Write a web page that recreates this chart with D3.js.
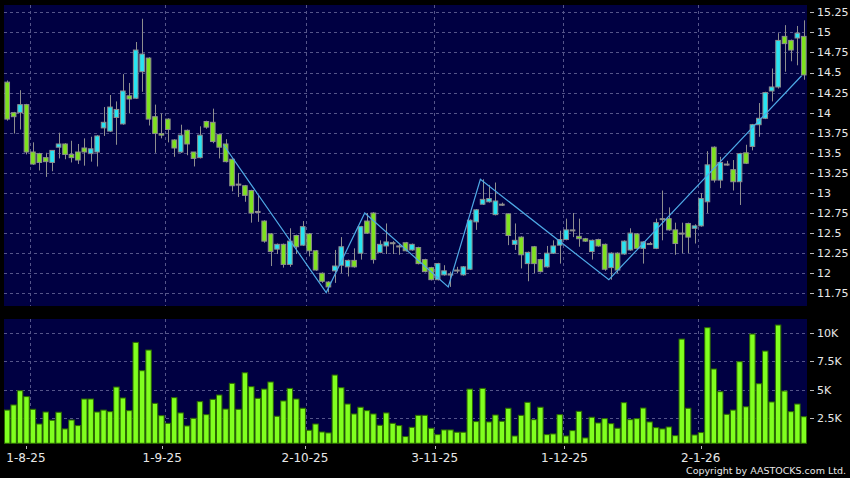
<!DOCTYPE html>
<html>
<head>
<meta charset="utf-8">
<script src="https://cdn.jsdelivr.net/npm/d3@7"></script>
<style>
  html, body { margin: 0; padding: 0; background: #000; }
  svg { display: block; }
  text { font-family: "DejaVu Sans", sans-serif; fill: #e8e8e8; }
</style>
</head>
<body>
<svg id="chart" width="850" height="478"></svg>
<script>
// daily candles, 28 Jul 2025 .. 26 Jan 2026 (one entry per trading day)
const open = [14.38, 14.00, 14.00, 14.10, 13.51, 13.49, 13.44, 13.38, 13.57, 13.61,
  13.48, 13.51, 13.56, 13.49, 13.51, 13.81, 13.77, 13.94, 13.86, 14.21,
  14.18, 14.51, 14.68, 13.95, 13.74, 13.92, 13.66, 13.51, 13.78, 13.51,
  13.44, 13.89, 13.88, 13.73, 13.61, 13.42, 13.11, 13.09, 13.03, 12.77,
  12.65, 12.49, 12.30, 12.36, 12.11, 12.47, 12.35, 12.49, 12.28, 12.00,
  11.89, 12.03, 12.10, 12.08, 12.16, 12.25, 12.65, 12.75, 12.26, 12.34,
  12.38, 12.34, 12.38, 12.29, 12.32, 12.17, 12.07, 11.92, 11.98, 11.99,
  12.04, 11.98, 12.05, 12.64, 12.86, 12.89, 12.73, 12.86, 12.74, 12.36,
  12.45, 12.12, 12.33, 12.17, 12.08, 12.25, 12.35, 12.42, 12.54, 12.46,
  12.43, 12.27, 12.42, 12.36, 12.07, 12.25, 12.24, 12.29, 12.49, 12.31,
  12.37, 12.31, 12.68, 12.68, 12.54, 12.50, 12.62, 12.56, 12.59, 12.89,
  13.57, 13.16, 13.36, 13.29, 13.14, 13.50, 13.58, 13.85, 13.93, 14.27,
  14.32, 14.95, 14.90, 14.93, 14.95];
const high = [14.40, 14.01, 14.28, 14.11, 13.63, 13.50, 13.50, 13.53, 13.75, 13.62,
  13.65, 13.61, 13.68, 13.70, 13.72, 14.07, 14.22, 14.14, 14.48, 14.37,
  14.88, 15.17, 14.69, 14.10, 13.99, 13.93, 13.67, 13.85, 13.79, 13.51,
  13.83, 13.90, 14.05, 13.74, 13.67, 13.43, 13.25, 13.10, 13.04, 12.97,
  12.66, 12.50, 12.37, 12.37, 12.56, 12.48, 12.65, 12.50, 12.29, 12.01,
  11.90, 12.29, 12.45, 12.17, 12.31, 12.59, 12.75, 12.76, 12.41, 12.62,
  12.40, 12.36, 12.39, 12.37, 12.33, 12.18, 12.08, 12.13, 12.10, 12.02,
  12.08, 12.09, 12.67, 12.80, 13.17, 13.10, 13.13, 12.88, 12.75, 12.62,
  12.46, 12.27, 12.34, 12.18, 12.34, 12.41, 12.53, 12.68, 12.75, 12.68,
  12.44, 12.42, 12.43, 12.37, 12.26, 12.26, 12.41, 12.56, 12.50, 12.40,
  12.39, 12.68, 13.03, 12.82, 12.63, 12.63, 12.63, 12.61, 13.00, 13.52,
  13.58, 13.45, 13.40, 13.41, 13.50, 13.60, 13.86, 14.12, 14.26, 14.55,
  14.99, 15.09, 14.91, 15.08, 15.15];
const low = [13.90, 13.74, 13.79, 13.48, 13.35, 13.28, 13.20, 13.27, 13.43, 13.42,
  13.38, 13.36, 13.34, 13.39, 13.33, 13.71, 13.76, 13.60, 13.85, 13.99,
  14.17, 14.26, 13.84, 13.50, 13.68, 13.63, 13.45, 13.50, 13.47, 13.33,
  13.43, 13.80, 13.62, 13.43, 13.38, 13.02, 12.95, 12.89, 12.63, 12.64,
  12.38, 12.09, 12.24, 12.07, 12.08, 12.24, 12.34, 12.21, 12.03, 11.88,
  11.76, 11.88, 12.00, 11.96, 12.07, 12.17, 12.49, 12.12, 12.25, 12.24,
  12.24, 12.23, 12.27, 12.28, 12.11, 12.01, 11.91, 11.91, 11.97, 11.83,
  12.00, 11.97, 12.04, 12.54, 12.85, 12.88, 12.72, 12.84, 12.35, 12.29,
  12.06, 11.90, 12.00, 12.01, 12.07, 12.24, 12.12, 12.41, 12.45, 12.33,
  12.39, 12.17, 12.33, 12.03, 11.92, 12.00, 12.23, 12.28, 12.30, 12.12,
  12.36, 12.30, 12.41, 12.53, 12.23, 12.25, 12.25, 12.37, 12.58, 12.75,
  13.13, 13.06, 13.34, 13.03, 12.85, 13.36, 13.53, 13.70, 13.92, 14.14,
  14.30, 14.51, 14.64, 14.59, 14.41];
const close = [13.92, 13.95, 14.10, 13.51, 13.36, 13.38, 13.39, 13.53, 13.61, 13.48,
  13.44, 13.41, 13.51, 13.55, 13.71, 13.88, 14.07, 14.04, 14.27, 14.17,
  14.78, 14.73, 13.92, 13.74, 13.72, 13.79, 13.56, 13.72, 13.61, 13.43,
  13.72, 13.82, 13.64, 13.57, 13.39, 13.09, 13.11, 12.97, 12.75, 12.77,
  12.40, 12.27, 12.36, 12.11, 12.40, 12.33, 12.58, 12.28, 12.04, 11.90,
  11.83, 12.09, 12.33, 12.16, 12.08, 12.58, 12.50, 12.17, 12.36, 12.39,
  12.38, 12.34, 12.28, 12.36, 12.12, 12.02, 11.92, 12.12, 12.03, 11.99,
  12.04, 12.08, 12.66, 12.79, 12.92, 12.93, 12.90, 12.86, 12.47, 12.41,
  12.23, 12.26, 12.12, 12.02, 12.25, 12.34, 12.42, 12.54, 12.54, 12.43,
  12.40, 12.41, 12.34, 12.05, 12.25, 12.04, 12.40, 12.50, 12.31, 12.39,
  12.37, 12.63, 12.68, 12.54, 12.37, 12.50, 12.45, 12.59, 12.93, 13.35,
  13.16, 13.38, 13.36, 13.14, 13.49, 13.37, 13.85, 13.93, 14.25, 14.32,
  14.90, 14.86, 14.78, 14.99, 14.47];
// volume in thousands of shares
const volume = [3.22, 3.67, 4.92, 4.40, 3.29, 2.00, 3.05, 2.33, 3.03, 1.57,
  2.35, 1.86, 4.19, 4.19, 3.05, 3.22, 3.08, 5.24, 4.28, 3.17,
  9.15, 6.67, 8.48, 3.81, 2.73, 2.06, 4.31, 2.97, 1.83, 2.50,
  3.96, 2.82, 4.16, 4.54, 3.31, 5.56, 3.29, 6.49, 5.27, 4.25,
  5.06, 5.68, 2.68, 4.02, 5.12, 4.19, 3.38, 1.45, 2.00, 1.30,
  1.22, 6.29, 5.18, 3.75, 2.88, 3.47, 3.17, 2.88, 1.89, 2.97,
  2.06, 1.86, 0.90, 1.71, 2.76, 2.76, 1.63, 1.07, 1.48, 1.48,
  1.28, 1.28, 5.06, 2.21, 5.12, 2.18, 2.79, 2.24, 3.38, 0.95,
  2.76, 3.90, 2.38, 3.47, 1.07, 1.13, 2.82, 0.95, 1.42, 3.11,
  0.78, 2.59, 2.09, 2.47, 2.03, 1.63, 3.87, 2.38, 2.47, 3.40,
  2.18, 1.68, 1.57, 1.74, 0.98, 9.44, 3.38, 1.04, 1.25, 10.44,
  6.82, 4.83, 2.85, 3.22, 7.46, 3.51, 9.88, 5.53, 8.39, 3.93,
  10.67, 4.89, 3.08, 3.75, 2.64];

// zigzag turning points: [candle index, price]
const zigIndex = [34, 50, 56, 69, 74, 94, 124];
const zigPrice = [13.60, 11.76, 12.75, 11.83, 13.17, 11.92, 14.46];

// month starts
const monthIndex = [4, 25, 47, 67, 87, 108];
const monthLabels = ["1-8-25", "1-9-25", "2-10-25", "3-11-25", "1-12-25", "2-1-26"];

const priceTicks = [11.75, 12, 12.25, 12.5, 12.75, 13, 13.25, 13.5, 13.75, 14, 14.25, 14.5, 14.75, 15, 15.25];
const volTicks = [2500, 5000, 7500, 10000];
const volTickLabels = ["2.5K", "5K", "7.5K", "10K"];

const N = close.length;
const data = d3.range(N).map(i => ({
  i: i, o: open[i], h: high[i], l: low[i], c: close[i], v: volume[i] * 1000
}));

const svg = d3.select("#chart");
const left = 4, right = 807;
const pTop = 5, pBottom = 306;
const vTop = 319, vBottom = 443.3;

const x = d3.scaleBand().domain(d3.range(N)).range([left, right]).padding(0);
const bw = x.bandwidth();
// date labels sit on a slightly wider grid than the candles
const xLabel = d3.scaleLinear().domain([0, N]).range([0, 811]);

const y = d3.scaleLinear().domain([11.592, 15.341]).range([pBottom, pTop]);
const yv = d3.scaleLinear().domain([310, 11200]).range([vBottom, vTop]);

const upColor = "#27e4f2", downColor = "#7ee21e", flatColor = "#9a9a9a";
const gridColor = "#55558a";

svg.append("rect").attr("width", 850).attr("height", 478).attr("fill", "#000");

// panels
svg.append("rect").attr("x", left).attr("y", pTop)
  .attr("width", right - left).attr("height", pBottom - pTop).attr("fill", "#000042");
svg.append("rect").attr("x", left).attr("y", vTop)
  .attr("width", right - left).attr("height", vBottom - vTop).attr("fill", "#000042");

const grid = svg.append("g")
  .attr("stroke", gridColor).attr("stroke-width", 1).attr("stroke-dasharray", "3,3");

grid.selectAll(".hp").data(priceTicks).enter().append("line")
  .attr("x1", left).attr("x2", right)
  .attr("y1", d => Math.round(y(d)) + 0.5).attr("y2", d => Math.round(y(d)) + 0.5);

grid.selectAll(".hv").data(volTicks).enter().append("line")
  .attr("x1", left).attr("x2", right)
  .attr("y1", d => Math.round(yv(d)) + 0.5).attr("y2", d => Math.round(yv(d)) + 0.5);

grid.selectAll(".vp").data(monthIndex).enter().append("line")
  .attr("x1", d => Math.round(x(d)) + 0.5).attr("x2", d => Math.round(x(d)) + 0.5)
  .attr("y1", pTop).attr("y2", pBottom);

grid.selectAll(".vv").data(monthIndex).enter().append("line")
  .attr("x1", d => Math.round(x(d)) + 0.5).attr("x2", d => Math.round(x(d)) + 0.5)
  .attr("y1", vTop).attr("y2", vBottom);

// candles
const candle = svg.append("g").selectAll("g").data(data).enter().append("g");

candle.append("line")
  .attr("x1", d => Math.round(x(d.i) + bw / 2) + 0.5)
  .attr("x2", d => Math.round(x(d.i) + bw / 2) + 0.5)
  .attr("y1", d => y(d.h)).attr("y2", d => y(d.l))
  .attr("stroke", "#8e8e8e").attr("stroke-width", 1);

candle.append("rect")
  .attr("x", d => x(d.i) + 0.9)
  .attr("width", bw - 1.8)
  .attr("y", d => y(Math.max(d.o, d.c)))
  .attr("height", d => Math.max(1, Math.abs(y(d.o) - y(d.c))))
  .attr("fill", d => d.c > d.o ? upColor : d.c < d.o ? downColor : flatColor)
  .attr("stroke", "#8e8e8e").attr("stroke-width", 1);

// zigzag
const zig = d3.line()
  .x(d => x(d[0]) + 1)
  .y(d => y(d[1]));

svg.append("path")
  .datum(zigIndex.map((k, j) => [k, zigPrice[j]]))
  .attr("d", zig)
  .attr("fill", "none")
  .attr("stroke", "#4ea9e6")
  .attr("stroke-width", 1.2);

// volume bars
svg.append("g").selectAll("rect").data(data).enter().append("rect")
  .attr("x", d => x(d.i) + 0.5)
  .attr("width", bw - 1)
  .attr("y", d => yv(d.v))
  .attr("height", d => vBottom - yv(d.v))
  .attr("fill", "#80ff1f")
  .attr("stroke", "#2c6a00").attr("stroke-width", 1);

// price axis
const pAxis = svg.append("g");
pAxis.selectAll("line").data(priceTicks).enter().append("line")
  .attr("x1", 810).attr("x2", 814)
  .attr("y1", d => Math.round(y(d)) + 0.5).attr("y2", d => Math.round(y(d)) + 0.5)
  .attr("stroke", "#bbbbbb");
pAxis.selectAll("text").data(priceTicks).enter().append("text")
  .attr("x", 817).attr("y", d => y(d)).attr("dy", "0.36em")
  .attr("font-size", 11)
  .text(d => d3.format("")(d));

// volume axis
const vAxis = svg.append("g");
vAxis.selectAll("line").data(volTicks).enter().append("line")
  .attr("x1", 810).attr("x2", 814)
  .attr("y1", d => Math.round(yv(d)) + 0.5).attr("y2", d => Math.round(yv(d)) + 0.5)
  .attr("stroke", "#bbbbbb");
vAxis.selectAll("text").data(volTicks).enter().append("text")
  .attr("x", 817).attr("y", d => yv(d)).attr("dy", "0.36em")
  .attr("font-size", 11)
  .text((d, i) => volTickLabels[i]);

// date axis
const dAxis = svg.append("g");
dAxis.selectAll("line").data(monthIndex).enter().append("line")
  .attr("x1", d => Math.round(xLabel(d)) + 0.5).attr("x2", d => Math.round(xLabel(d)) + 0.5)
  .attr("y1", 446).attr("y2", 449)
  .attr("stroke", "#bbbbbb");
dAxis.selectAll("text").data(monthIndex).enter().append("text")
  .attr("x", d => xLabel(d)).attr("y", 462)
  .attr("text-anchor", "middle")
  .attr("font-size", 12)
  .text((d, i) => monthLabels[i]);

svg.append("text")
  .attr("x", 846).attr("y", 474)
  .attr("text-anchor", "end")
  .attr("font-size", 9.5)
  .text("Copyright by AASTOCKS.com Ltd.");
</script>
</body>
</html>
